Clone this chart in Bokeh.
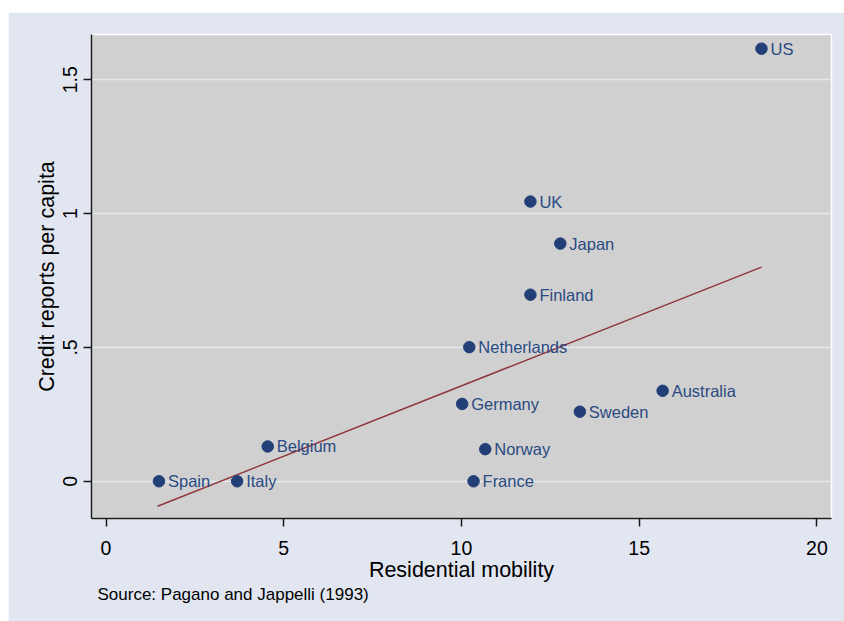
from bokeh.plotting import figure
from bokeh.models import Range1d, Title, ColumnDataSource, Spacer, FixedTicker
from bokeh.layouts import column, row
from bokeh.core.properties import value
from bokeh.embed import file_html
from bokeh.resources import INLINE

countries = ["US", "UK", "Japan", "Finland", "Netherlands", "Germany", "Sweden",
             "Australia", "Norway", "France", "Belgium", "Spain", "Italy"]
mobility = [18.44, 11.94, 12.78, 11.94, 10.22, 10.02, 13.33, 15.66, 10.67, 10.34, 4.55, 1.49, 3.69]
credit = [1.616, 1.045, 0.888, 0.697, 0.501, 0.289, 0.260, 0.338, 0.120, 0.0, 0.130, 0.0, 0.0]

fit_x = [1.45, 18.44]
fit_y = [-0.093, 0.80]

x_ticks = [0, 5, 10, 15, 20]
x_tick_labels = ["0", "5", "10", "15", "20"]
y_ticks = [0.0, 0.5, 1.0, 1.5]
y_tick_labels = ["0", ".5", "1", "1.5"]

FONT = "Liberation Sans"
NAVY = "#233f78"

src = ColumnDataSource(dict(x=mobility, y=credit, name=countries))

p = figure(width=836, height=609,
           x_range=Range1d(-0.408, 20.41), y_range=Range1d(-0.139, 1.669),
           output_backend="svg", toolbar_location=None,
           min_border_left=83, min_border_right=13, min_border_top=22, min_border_bottom=103,
           background_fill_color="#d0d0d0", border_fill_color="#e1e6f0")
p.outline_line_color = "white"
p.outline_line_width = 1.5

p.line(fit_x, fit_y, line_color="#90353b", line_width=1.5)
p.scatter("x", "y", source=src, size=11.5, fill_color=NAVY, line_color=NAVY)
p.text("x", "y", text="name", source=src, x_offset=9, y_offset=0,
       text_baseline="middle", text_align="left",
       text_font=value(FONT), text_font_size="16.5px", text_color="#2a4a82")

p.xaxis.ticker = FixedTicker(ticks=x_ticks)
p.xaxis.major_label_overrides = dict(zip(x_ticks, x_tick_labels))
p.yaxis.ticker = FixedTicker(ticks=y_ticks)
p.yaxis.major_label_overrides = dict(zip(y_ticks, y_tick_labels))
p.yaxis.major_label_orientation = "vertical"

for ax in (p.xaxis, p.yaxis):
    ax.axis_line_color = "#1a1a1a"
    ax.axis_line_width = 1.5
    ax.major_tick_line_color = "#1a1a1a"
    ax.major_tick_line_width = 1.5
    ax.major_tick_out = 8
    ax.major_tick_in = 0
    ax.minor_tick_out = 0
    ax.minor_tick_in = 0
    ax.major_label_text_font = FONT
    ax.major_label_text_font_size = "19.5px"
    ax.major_label_text_color = "black"
    ax.axis_label_text_font = FONT
    ax.axis_label_text_font_size = "21.5px"
    ax.axis_label_text_font_style = "normal"
    ax.axis_label_text_color = "black"

p.xaxis.axis_label = "Residential mobility"
p.yaxis.axis_label = "Credit reports per capita"
p.xaxis.major_label_standoff = 14
p.xaxis.axis_label_standoff = 0
p.yaxis.major_label_standoff = 6
p.yaxis.axis_label_standoff = 2

p.xgrid.visible = False
p.ygrid.grid_line_color = "#e4e8f0"
p.ygrid.grid_line_width = 1.5

src_title = Title(text="Source: Pagano and Jappelli (1993)", align="left", offset=6,
                  text_font=FONT, text_font_size="17px", text_font_style="normal",
                  text_color="black", standoff=-4)
p.add_layout(src_title, "below")

layout = row(Spacer(width=8, height=621), column(Spacer(height=12, width=836), p))
open("out.html", "w").write(file_html(layout, INLINE))
